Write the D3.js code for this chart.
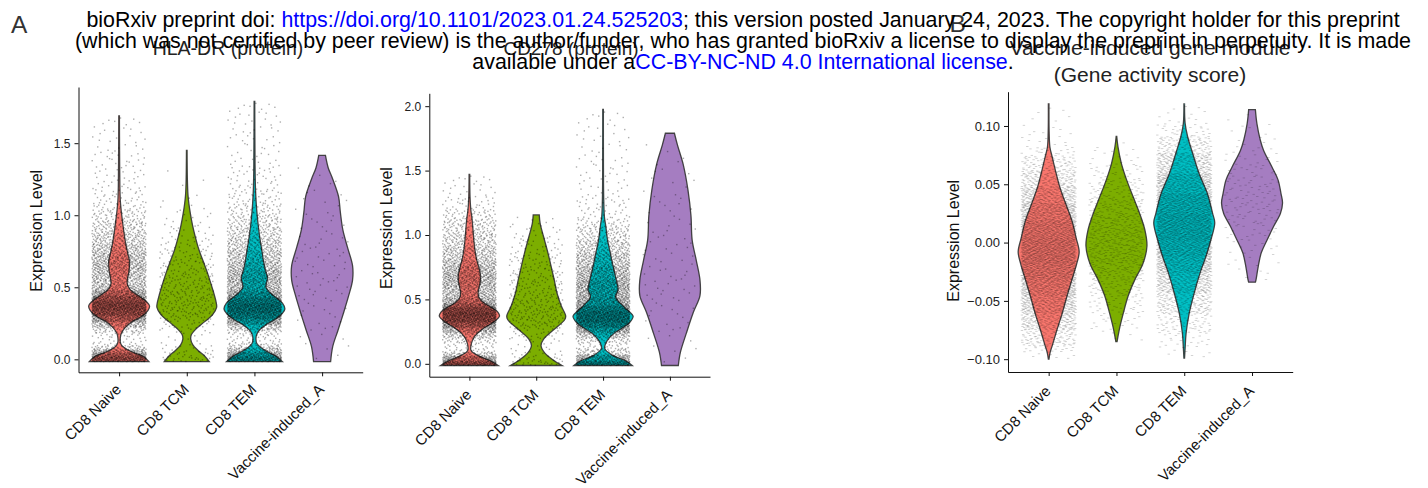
<!DOCTYPE html>
<html>
<head>
<meta charset="utf-8">
<script src="https://cdn.jsdelivr.net/npm/d3@7"></script>
<style>
  body { margin: 0; background: #fff; }
  svg { display: block; font-family: "Liberation Sans", Arial, Helvetica, sans-serif; }
</style>
</head>
<body>
<svg id="fig" width="1428" height="488"></svg>
<script>
// cell groups, same order in every panel
const categories = ["CD8 Naive", "CD8 TCM", "CD8 TEM", "Vaccine-induced_A"];
const groupColors = ["#F8766D", "#7CAE00", "#00BFC4", "#A57DC1"];

// violin outlines: [value, width relative to the widest part]
const hlaProfiles = [
  [[-0.016,0.98],[0.02,0.8],[0.045,0.5],[0.07,0.25],[0.095,0.09],[0.12,0.04],[0.15,0.04],[0.18,0.07],[0.22,0.2],[0.26,0.42],[0.3,0.76],[0.34,0.95],[0.37,1.0],[0.4,0.9],[0.44,0.65],[0.48,0.38],[0.52,0.27],[0.56,0.28],[0.62,0.33],[0.68,0.34],[0.74,0.28],[0.8,0.22],[0.88,0.16],[0.96,0.11],[1.04,0.065],[1.1,0.04],[1.2,0.025],[1.45,0.015],[1.69,0.01]],
  [[-0.016,0.74],[0.02,0.6],[0.06,0.38],[0.1,0.2],[0.14,0.13],[0.17,0.15],[0.21,0.3],[0.26,0.58],[0.31,0.85],[0.36,0.98],[0.39,0.97],[0.45,0.9],[0.52,0.8],[0.6,0.68],[0.68,0.54],[0.76,0.4],[0.85,0.28],[0.93,0.19],[1.01,0.12],[1.08,0.07],[1.14,0.04],[1.25,0.02],[1.45,0.01]],
  [[-0.016,0.92],[0.02,0.72],[0.05,0.45],[0.08,0.22],[0.11,0.08],[0.14,0.05],[0.17,0.07],[0.2,0.15],[0.24,0.38],[0.28,0.7],[0.32,0.92],[0.35,1.0],[0.39,0.92],[0.43,0.7],[0.47,0.48],[0.5,0.38],[0.53,0.4],[0.57,0.43],[0.62,0.36],[0.68,0.3],[0.76,0.24],[0.84,0.18],[0.92,0.13],[1.0,0.09],[1.08,0.06],[1.18,0.035],[1.35,0.02],[1.79,0.01]],
  [[-0.016,0.28],[0.09,0.35],[0.2,0.52],[0.32,0.7],[0.44,0.87],[0.55,1.0],[0.65,1.0],[0.78,0.83],[0.9,0.68],[1.02,0.6],[1.13,0.54],[1.25,0.35],[1.33,0.2],[1.415,0.11]]
];
const cd278Profiles = [
  [[-0.013,0.96],[0.02,0.72],[0.06,0.33],[0.09,0.1],[0.11,0.045],[0.16,0.07],[0.2,0.14],[0.24,0.28],[0.28,0.5],[0.32,0.78],[0.37,1.0],[0.4,0.95],[0.44,0.72],[0.47,0.5],[0.51,0.33],[0.55,0.29],[0.6,0.33],[0.65,0.37],[0.7,0.36],[0.76,0.3],[0.81,0.24],[0.91,0.17],[1.01,0.13],[1.12,0.09],[1.2,0.045],[1.3,0.02],[1.47,0.01]],
  [[-0.013,0.86],[0.03,0.56],[0.085,0.28],[0.14,0.16],[0.19,0.24],[0.27,0.61],[0.34,0.94],[0.37,0.98],[0.45,0.83],[0.55,0.69],[0.65,0.6],[0.73,0.52],[0.86,0.39],[0.99,0.24],[1.09,0.13],[1.156,0.1]],
  [[-0.013,0.97],[0.02,0.77],[0.07,0.28],[0.12,0.055],[0.16,0.09],[0.2,0.2],[0.24,0.38],[0.28,0.65],[0.32,0.88],[0.37,1.0],[0.41,0.85],[0.45,0.66],[0.52,0.42],[0.575,0.5],[0.65,0.44],[0.76,0.33],[0.86,0.24],[0.96,0.15],[1.07,0.09],[1.14,0.045],[1.3,0.02],[1.6,0.012],[1.975,0.01]],
  [[-0.013,0.28],[0.09,0.35],[0.24,0.55],[0.4,0.78],[0.53,1.0],[0.65,1.0],[0.8,0.88],[0.96,0.74],[1.15,0.7],[1.35,0.6],[1.55,0.44],[1.7,0.25],[1.79,0.15]]
];
const moduleProfiles = [
  [[-0.1,0.01],[-0.094,0.05],[-0.089,0.11],[-0.075,0.27],[-0.061,0.44],[-0.046,0.6],[-0.032,0.76],[-0.018,0.92],[-0.008,1.0],[0.004,0.9],[0.019,0.76],[0.034,0.55],[0.048,0.36],[0.062,0.22],[0.074,0.11],[0.082,0.04],[0.095,0.015],[0.119,0.01]],
  [[-0.085,0.02],[-0.075,0.09],[-0.061,0.22],[-0.046,0.38],[-0.032,0.6],[-0.018,0.87],[-0.003,1.0],[0.011,0.93],[0.025,0.76],[0.039,0.55],[0.054,0.33],[0.068,0.16],[0.082,0.05],[0.091,0.01]],
  [[-0.099,0.01],[-0.09,0.03],[-0.078,0.06],[-0.061,0.16],[-0.043,0.33],[-0.026,0.52],[-0.012,0.71],[0.002,0.87],[0.017,1.0],[0.025,0.93],[0.042,0.76],[0.059,0.49],[0.077,0.27],[0.091,0.11],[0.102,0.03],[0.119,0.01]],
  [[-0.034,0.11],[-0.032,0.13],[-0.021,0.2],[-0.009,0.3],[0.002,0.49],[0.014,0.71],[0.025,0.93],[0.034,1.0],[0.042,0.95],[0.054,0.85],[0.065,0.65],[0.079,0.38],[0.088,0.27],[0.102,0.16],[0.114,0.11]]
];

// rough number of cells in each group (jittered dots)
const hlaCounts = [3600, 420, 3600, 90];
const cd278Counts = [3600, 420, 3600, 90];
const moduleCounts = [3400, 700, 3400, 160];

// axis ranges and ticks
const hlaDomain = [-0.09, 1.89];
const hlaTicks = [0, 0.5, 1.0, 1.5];
const cd278Domain = [-0.1, 2.1];
const cd278Ticks = [0, 0.5, 1.0, 1.5, 2.0];
const moduleDomain = [-0.111, 0.1294];
const moduleTicks = [-0.10, -0.05, 0, 0.05, 0.10];

const svg = d3.select("#fig");

// halton sequence, used only to spread the dots evenly
function halton(i, b) {
  let f = 1, r = 0;
  while (i > 0) { f /= b; r += f * (i % b); i = Math.floor(i / b); }
  return r;
}

// value at quantile q of a violin outline (trapezoid density)
function makeQuantile(profile) {
  const cum = [0];
  for (let k = 1; k < profile.length; k++) {
    const a = profile[k - 1], b = profile[k];
    cum.push(cum[k - 1] + (a[1] + b[1]) / 2 * (b[0] - a[0]));
  }
  const total = cum[cum.length - 1];
  return q => {
    const t = q * total;
    let k = 1;
    while (k < cum.length - 1 && cum[k] < t) k++;
    const f = (t - cum[k - 1]) / ((cum[k] - cum[k - 1]) || 1);
    return profile[k - 1][0] + f * (profile[k][0] - profile[k - 1][0]);
  };
}

function drawPanel(p) {
  const g = svg.append("g");
  const y = d3.scaleLinear().domain(p.domain).range([p.bottom, p.top]);
  const x = d3.scalePoint().domain(categories).range([p.left, p.right]).padding(0.6);
  const step = x.step();
  const maxHalf = 0.45 * step;

  categories.forEach((cat, i) => {
    const cx = x(cat);
    const area = d3.area()
      .y(d => y(d[0]))
      .x0(d => cx - d[1] * maxHalf)
      .x1(d => cx + d[1] * maxHalf)
      .curve(d3.curveCatmullRom.alpha(0.5));
    g.append("path")
      .attr("d", area(p.profiles[i]))
      .attr("fill", groupColors[i])
      .attr("stroke", "#333")
      .attr("stroke-width", 1.3)
      .attr("stroke-opacity", 0.9);
  });

  categories.forEach((cat, i) => {
    const cx = x(cat);
    const quant = makeQuantile(p.profiles[i]);
    const n = p.counts[i];
    const pts = d3.range(n).map(k => ({
      v: quant(halton(k + 1, 2)),
      dx: (halton(k + 1, 3) * 2 - 1) * 0.4 * step
    }));
    g.append("g").selectAll("rect")
      .data(pts)
      .enter()
      .append("rect")
      .attr("x", d => cx + d.dx - p.dotW / 2)
      .attr("y", d => y(d.v) - p.dotH / 2)
      .attr("width", p.dotW)
      .attr("height", p.dotH)
      .attr("fill", "#000")
      .attr("fill-opacity", p.dotAlpha);
  });

  const yAxis = g.append("g")
    .attr("transform", `translate(${p.left},0)`)
    .call(d3.axisLeft(y).tickValues(p.ticks).tickFormat(d3.format(p.fmt)).tickSize(4).tickSizeOuter(0).tickPadding(4));
  yAxis.selectAll("text").attr("font-size", p.tickFont).attr("fill", "#222").attr("font-family", null);

  const xAxis = g.append("g")
    .attr("transform", `translate(0,${p.bottom})`)
    .call(d3.axisBottom(x).tickSize(4).tickSizeOuter(0));
  xAxis.selectAll("text")
    .attr("font-size", 15)
    .attr("fill", "#111")
    .attr("font-family", null)
    .attr("text-anchor", "end")
    .attr("y", null).attr("dy", null)
    .attr("transform", `translate(2.5,${p.labelDrop}) rotate(-45)`);
  g.selectAll(".domain, .tick line").attr("stroke", "#111").attr("stroke-width", 1);

  g.append("text")
    .attr("transform", `translate(${p.yTitleX},${p.yTitleY}) rotate(-90)`)
    .attr("text-anchor", "middle")
    .attr("font-size", 16)
    .attr("fill", "#111")
    .text("Expression Level");

  p.title.forEach((line, k) => {
    g.append("text")
      .attr("x", p.titleX)
      .attr("y", p.titleY + k * 26.5)
      .attr("text-anchor", "middle")
      .attr("font-size", p.titleFont)
      .attr("fill", "#222")
      .text(line);
  });
}

drawPanel({
  profiles: hlaProfiles, counts: hlaCounts, domain: hlaDomain, ticks: hlaTicks, fmt: ".1f",
  left: 78.5, right: 362.7, top: 87, bottom: 372.3, tickFont: 12, labelDrop: 18,
  yTitleX: 41.6, yTitleY: 230.8, title: ["HLA-DR (protein)"], titleX: 228, titleY: 55, titleFont: 19.5,
  dotW: 1.4, dotH: 1.4, dotAlpha: 0.32
});
drawPanel({
  profiles: cd278Profiles, counts: cd278Counts, domain: cd278Domain, ticks: cd278Ticks, fmt: ".1f",
  left: 429.3, right: 710, top: 93.3, bottom: 376.7, tickFont: 12, labelDrop: 19,
  yTitleX: 391.5, yTitleY: 228, title: ["CD278 (protein)"], titleX: 571, titleY: 55, titleFont: 19,
  dotW: 1.4, dotH: 1.4, dotAlpha: 0.32
});
drawPanel({
  profiles: moduleProfiles, counts: moduleCounts, domain: moduleDomain, ticks: moduleTicks, fmt: ".2f",
  left: 1008, right: 1292.7, top: 91.7, bottom: 372, tickFont: 13, labelDrop: 20,
  yTitleX: 958.5, yTitleY: 240.8, title: ["Vaccine-induced gene module", "(Gene activity score)"], titleX: 1150, titleY: 55, titleFont: 21,
  dotW: 2.4, dotH: 0.8, dotAlpha: 0.22
});

// panel letters
svg.append("text").attr("x", 11).attr("y", 32.5).attr("font-size", 24.5).attr("fill", "#333").text("A");
svg.append("text").attr("x", 949.5).attr("y", 32).attr("font-size", 24.5).attr("fill", "#333").text("B");

// preprint banner printed across the top
const banner = [
  [["bioRxiv preprint doi: ", "#000"], ["https://doi.org/10.1101/2023.01.24.525203", "#0000ff"], ["; this version posted January 24, 2023. The copyright holder for this preprint", "#000"]],
  [["(which was not certified by peer review) is the author/funder, who has granted bioRxiv a license to display the preprint in perpetuity. It is made", "#000"]],
  [["available under a", "#000"], ["CC-BY-NC-ND 4.0 International license", "#0000ff"], [".", "#000"]]
];
banner.forEach((line, k) => {
  const t = svg.append("text")
    .attr("x", 743)
    .attr("y", 27 + k * 21.2)
    .attr("text-anchor", "middle")
    .attr("font-size", 21.4);
  line.forEach(seg => t.append("tspan").attr("fill", seg[1]).text(seg[0]));
});
</script>
</body>
</html>
